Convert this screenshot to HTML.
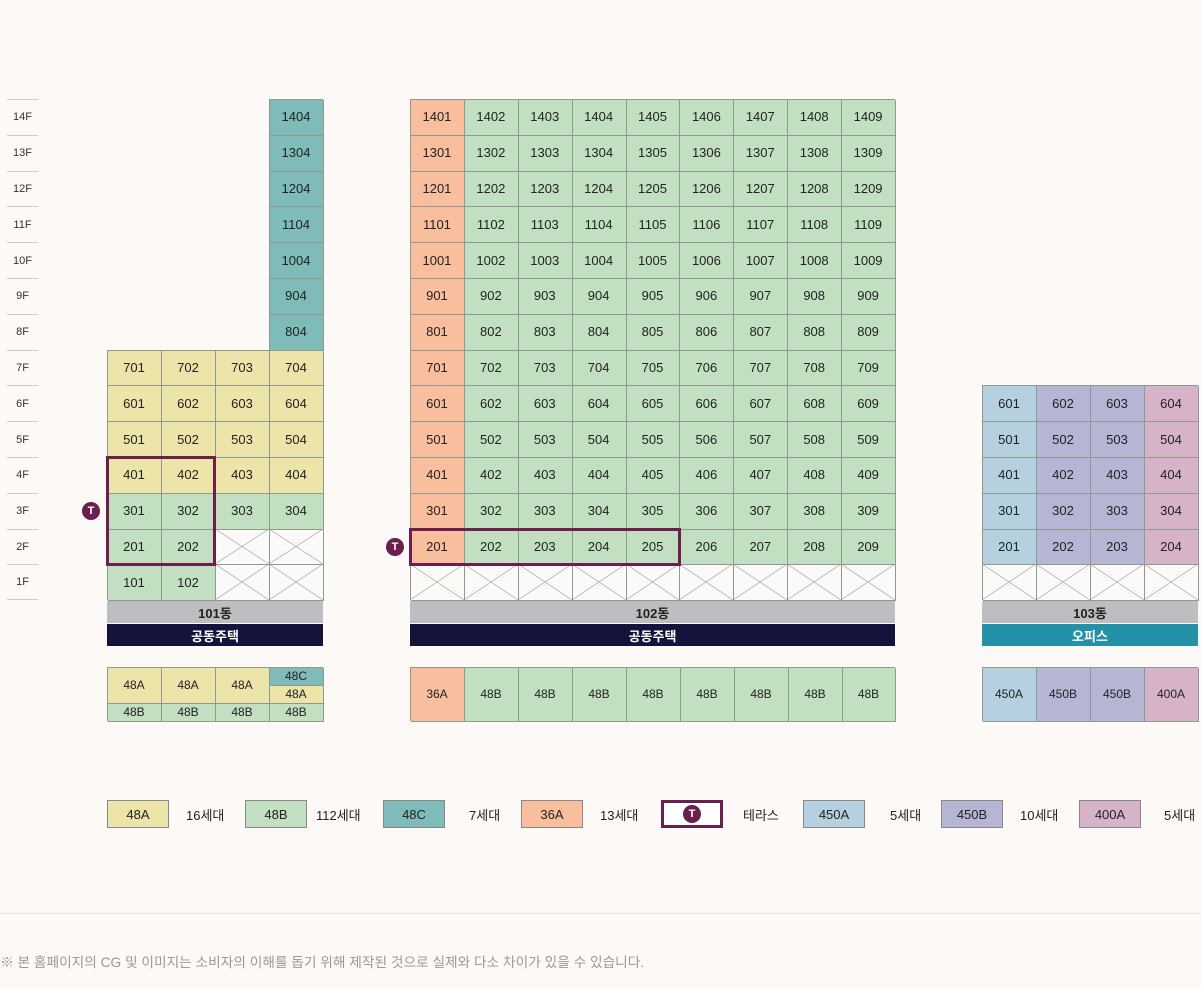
<!DOCTYPE html>
<html><head><meta charset="utf-8"><style>
body{margin:0;width:1201px;height:988px;background:#fcf9f6;font-family:"Liberation Sans","Noto Sans CJK KR",sans-serif;position:relative;overflow:hidden;color:#222}
.g{position:absolute;display:grid;grid-auto-rows:35.8px}
.g div{display:flex;align-items:center;justify-content:center;font-size:13px;box-shadow:inset 1px 1px 0 #8e9a8e,1px 1px 0 #8e9a8e}
.g div.e{box-shadow:none}
.y{background:#ede4aa}.n{background:#c2dfc1}.t{background:#7fbbb9}.o{background:#f8be9e}.b{background:#b5d1df}.p{background:#b4b6d4}.k{background:#d7b3c9}
.g div.x{background:linear-gradient(to top right,transparent calc(50% - .6px),#999 50%,transparent calc(50% + .6px)),linear-gradient(to bottom right,transparent calc(50% - .6px),#999 50%,transparent calc(50% + .6px)),#fbfaf8}
.fl{position:absolute;left:7px;width:31px;height:35.8px;border-top:1px solid #ccc;font-size:11px;display:flex;align-items:center;justify-content:center;box-sizing:border-box;color:#333}
.band{position:absolute;height:22px;display:flex;align-items:center;justify-content:center;font-size:13px;font-weight:bold}
.gr{background:#bebdc2;color:#222}.nv{background:#13133b;color:#fff}.tl{background:#2591a9;color:#fff}
.hl{position:absolute;border:3px solid #6b1f4f;box-sizing:border-box}
.tc{position:absolute;width:18px;height:18px;border-radius:50%;background:#6b1f4f;color:#fff;font-size:11px;font-weight:bold;display:flex;align-items:center;justify-content:center}
.ty{position:absolute;display:flex;align-items:center;justify-content:center;font-size:12px;box-shadow:inset 1px 1px 0 #8e9a8e,1px 1px 0 #8e9a8e}
.lb{position:absolute;top:800px;width:62px;height:28px;display:flex;align-items:center;justify-content:center;font-size:13px;box-sizing:border-box;border:1px solid #888}
.lt{position:absolute;top:800px;height:28px;display:flex;align-items:center;font-size:13px}
</style></head><body>
<div class="fl" style="top:99px">14F</div><div class="fl" style="top:134.8px">13F</div><div class="fl" style="top:170.6px">12F</div><div class="fl" style="top:206.4px">11F</div><div class="fl" style="top:242.2px">10F</div><div class="fl" style="top:278px">9F</div><div class="fl" style="top:313.8px">8F</div><div class="fl" style="top:349.6px">7F</div><div class="fl" style="top:385.4px">6F</div><div class="fl" style="top:421.2px">5F</div><div class="fl" style="top:457px">4F</div><div class="fl" style="top:492.8px">3F</div><div class="fl" style="top:528.6px">2F</div><div class="fl" style="top:564.4px;border-bottom:1px solid #ccc">1F</div>

<div class="g" style="left:107px;top:99px;grid-template-columns:repeat(4,54px)">
<div class="e"></div><div class="e"></div><div class="e"></div><div class="t">1404</div>
<div class="e"></div><div class="e"></div><div class="e"></div><div class="t">1304</div>
<div class="e"></div><div class="e"></div><div class="e"></div><div class="t">1204</div>
<div class="e"></div><div class="e"></div><div class="e"></div><div class="t">1104</div>
<div class="e"></div><div class="e"></div><div class="e"></div><div class="t">1004</div>
<div class="e"></div><div class="e"></div><div class="e"></div><div class="t">904</div>
<div class="e"></div><div class="e"></div><div class="e"></div><div class="t">804</div>
<div class="y">701</div><div class="y">702</div><div class="y">703</div><div class="y">704</div>
<div class="y">601</div><div class="y">602</div><div class="y">603</div><div class="y">604</div>
<div class="y">501</div><div class="y">502</div><div class="y">503</div><div class="y">504</div>
<div class="y">401</div><div class="y">402</div><div class="y">403</div><div class="y">404</div>
<div class="n">301</div><div class="n">302</div><div class="n">303</div><div class="n">304</div>
<div class="n">201</div><div class="n">202</div><div class="x"></div><div class="x"></div>
<div class="n">101</div><div class="n">102</div><div class="x"></div><div class="x"></div>
</div>

<div class="g" style="left:410px;top:99px;grid-template-columns:repeat(9,53.9px)">
<div class="o">1401</div><div class="n">1402</div><div class="n">1403</div><div class="n">1404</div><div class="n">1405</div><div class="n">1406</div><div class="n">1407</div><div class="n">1408</div><div class="n">1409</div>
<div class="o">1301</div><div class="n">1302</div><div class="n">1303</div><div class="n">1304</div><div class="n">1305</div><div class="n">1306</div><div class="n">1307</div><div class="n">1308</div><div class="n">1309</div>
<div class="o">1201</div><div class="n">1202</div><div class="n">1203</div><div class="n">1204</div><div class="n">1205</div><div class="n">1206</div><div class="n">1207</div><div class="n">1208</div><div class="n">1209</div>
<div class="o">1101</div><div class="n">1102</div><div class="n">1103</div><div class="n">1104</div><div class="n">1105</div><div class="n">1106</div><div class="n">1107</div><div class="n">1108</div><div class="n">1109</div>
<div class="o">1001</div><div class="n">1002</div><div class="n">1003</div><div class="n">1004</div><div class="n">1005</div><div class="n">1006</div><div class="n">1007</div><div class="n">1008</div><div class="n">1009</div>
<div class="o">901</div><div class="n">902</div><div class="n">903</div><div class="n">904</div><div class="n">905</div><div class="n">906</div><div class="n">907</div><div class="n">908</div><div class="n">909</div>
<div class="o">801</div><div class="n">802</div><div class="n">803</div><div class="n">804</div><div class="n">805</div><div class="n">806</div><div class="n">807</div><div class="n">808</div><div class="n">809</div>
<div class="o">701</div><div class="n">702</div><div class="n">703</div><div class="n">704</div><div class="n">705</div><div class="n">706</div><div class="n">707</div><div class="n">708</div><div class="n">709</div>
<div class="o">601</div><div class="n">602</div><div class="n">603</div><div class="n">604</div><div class="n">605</div><div class="n">606</div><div class="n">607</div><div class="n">608</div><div class="n">609</div>
<div class="o">501</div><div class="n">502</div><div class="n">503</div><div class="n">504</div><div class="n">505</div><div class="n">506</div><div class="n">507</div><div class="n">508</div><div class="n">509</div>
<div class="o">401</div><div class="n">402</div><div class="n">403</div><div class="n">404</div><div class="n">405</div><div class="n">406</div><div class="n">407</div><div class="n">408</div><div class="n">409</div>
<div class="o">301</div><div class="n">302</div><div class="n">303</div><div class="n">304</div><div class="n">305</div><div class="n">306</div><div class="n">307</div><div class="n">308</div><div class="n">309</div>
<div class="o">201</div><div class="n">202</div><div class="n">203</div><div class="n">204</div><div class="n">205</div><div class="n">206</div><div class="n">207</div><div class="n">208</div><div class="n">209</div>
<div class="x"></div><div class="x"></div><div class="x"></div><div class="x"></div><div class="x"></div><div class="x"></div><div class="x"></div><div class="x"></div><div class="x"></div>
</div>

<div class="g" style="left:982px;top:385.4px;grid-template-columns:repeat(4,54px)">
<div class="b">601</div><div class="p">602</div><div class="p">603</div><div class="k">604</div>
<div class="b">501</div><div class="p">502</div><div class="p">503</div><div class="k">504</div>
<div class="b">401</div><div class="p">402</div><div class="p">403</div><div class="k">404</div>
<div class="b">301</div><div class="p">302</div><div class="p">303</div><div class="k">304</div>
<div class="b">201</div><div class="p">202</div><div class="p">203</div><div class="k">204</div>
<div class="x"></div><div class="x"></div><div class="x"></div><div class="x"></div>
</div>

<div class="hl" style="left:106px;top:456px;width:110px;height:110px"></div>
<div class="tc" style="left:82px;top:502px">T</div>
<div class="hl" style="left:409px;top:528px;width:272px;height:38px"></div>
<div class="tc" style="left:386px;top:538px">T</div>

<div class="band gr" style="left:107px;top:601px;width:216px">101동</div>
<div class="band nv" style="left:107px;top:624px;width:216px">공동주택</div>
<div class="band gr" style="left:410px;top:601px;width:485px">102동</div>
<div class="band nv" style="left:410px;top:624px;width:485px">공동주택</div>
<div class="band gr" style="left:982px;top:601px;width:216px">103동</div>
<div class="band tl" style="left:982px;top:624px;width:216px">오피스</div>

<div class="ty y" style="left:107px;top:667px;width:54px;height:36px">48A</div>
<div class="ty y" style="left:161px;top:667px;width:54px;height:36px">48A</div>
<div class="ty y" style="left:215px;top:667px;width:54px;height:36px">48A</div>
<div class="ty t" style="left:269px;top:667px;width:54px;height:18px">48C</div>
<div class="ty y" style="left:269px;top:685px;width:54px;height:18px">48A</div>
<div class="ty n" style="left:107px;top:703px;width:54px;height:18px">48B</div>
<div class="ty n" style="left:161px;top:703px;width:54px;height:18px">48B</div>
<div class="ty n" style="left:215px;top:703px;width:54px;height:18px">48B</div>
<div class="ty n" style="left:269px;top:703px;width:54px;height:18px">48B</div>

<div class="ty o" style="left:410px;top:667px;width:54px;height:54px">36A</div>
<div class="ty n" style="left:464px;top:667px;width:54px;height:54px">48B</div>
<div class="ty n" style="left:518px;top:667px;width:54px;height:54px">48B</div>
<div class="ty n" style="left:572px;top:667px;width:54px;height:54px">48B</div>
<div class="ty n" style="left:626px;top:667px;width:54px;height:54px">48B</div>
<div class="ty n" style="left:680px;top:667px;width:54px;height:54px">48B</div>
<div class="ty n" style="left:734px;top:667px;width:54px;height:54px">48B</div>
<div class="ty n" style="left:788px;top:667px;width:54px;height:54px">48B</div>
<div class="ty n" style="left:842px;top:667px;width:53px;height:54px">48B</div>

<div class="ty b" style="left:982px;top:667px;width:54px;height:54px">450A</div>
<div class="ty p" style="left:1036px;top:667px;width:54px;height:54px">450B</div>
<div class="ty p" style="left:1090px;top:667px;width:54px;height:54px">450B</div>
<div class="ty k" style="left:1144px;top:667px;width:54px;height:54px">400A</div>

<div class="lb y" style="left:107px">48A</div><div class="lt" style="left:186px">16세대</div>
<div class="lb n" style="left:245px">48B</div><div class="lt" style="left:316px">112세대</div>
<div class="lb t" style="left:383px">48C</div><div class="lt" style="left:469px">7세대</div>
<div class="lb o" style="left:521px">36A</div><div class="lt" style="left:600px">13세대</div>
<div class="lb" style="left:661px;border:3px solid #6b1f4f;background:#fff"><span class="tc" style="position:static">T</span></div><div class="lt" style="left:743px">테라스</div>
<div class="lb b" style="left:803px">450A</div><div class="lt" style="left:890px">5세대</div>
<div class="lb p" style="left:941px">450B</div><div class="lt" style="left:1020px">10세대</div>
<div class="lb k" style="left:1079px">400A</div><div class="lt" style="left:1164px">5세대</div>

<div style="position:absolute;left:0;top:913px;width:1201px;height:1px;background:#e4e0dc"></div>
<div style="position:absolute;left:0;top:951px;font-size:13.7px;color:#999">※ 본 홈페이지의 CG 및 이미지는 소비자의 이해를 돕기 위해 제작된 것으로 실제와 다소 차이가 있을 수 있습니다.</div>
</body></html>
